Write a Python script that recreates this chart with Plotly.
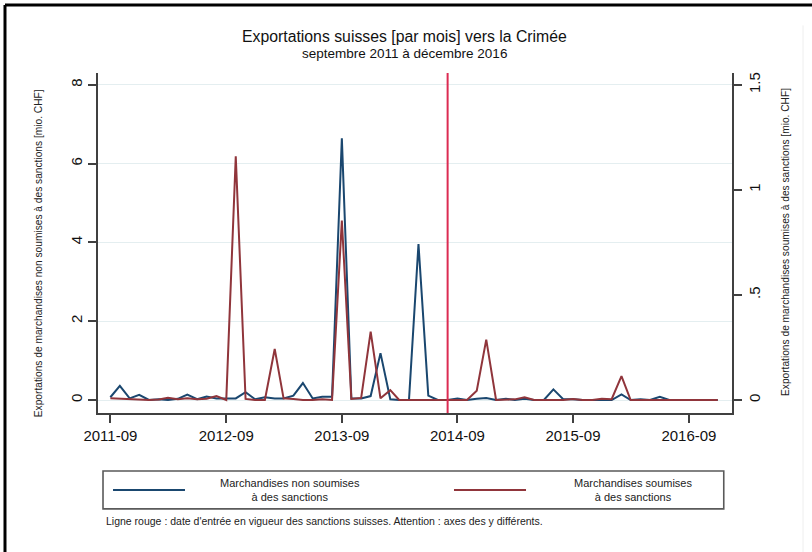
import pandas as pd
import plotly.graph_objects as go

# Monthly Swiss exports to Crimea, September 2011 - December 2016 (mio. CHF)
months = pd.date_range("2011-09-01", "2016-12-01", freq="MS")

non_sanctioned = [
    0.07, 0.36, 0.04, 0.13, 0.00, 0.02, 0.00, 0.03, 0.14, 0.02, 0.09, 0.04,
    0.04, 0.04, 0.20, 0.02, 0.07, 0.04, 0.04, 0.11, 0.43, 0.04, 0.08, 0.08,
    6.64, 0.04, 0.04, 0.10, 1.19, 0.02, 0.00, 0.00, 3.96, 0.11, 0.00, 0.00,
    0.04, 0.00, 0.03, 0.05, 0.00, 0.03, 0.00, 0.03, 0.00, 0.00, 0.27, 0.02,
    0.02, 0.00, 0.00, 0.00, 0.00, 0.14, 0.00, 0.02, 0.00, 0.08, 0.00, 0.00,
    0.00, 0.00, 0.00, 0.00,
]

sanctioned = [
    0.008, 0.006, 0.002, 0.000, 0.000, 0.002, 0.011, 0.003, 0.008, 0.003, 0.006, 0.019,
    0.000, 1.160, 0.005, 0.000, 0.000, 0.243, 0.008, 0.005, 0.000, 0.000, 0.003, 0.000,
    0.854, 0.005, 0.010, 0.325, 0.008, 0.047, 0.000, 0.000, 0.000, 0.000, 0.000, 0.000,
    0.000, 0.000, 0.044, 0.287, 0.000, 0.000, 0.003, 0.013, 0.000, 0.000, 0.000, 0.000,
    0.005, 0.000, 0.000, 0.006, 0.004, 0.114, 0.000, 0.000, 0.000, 0.000, 0.000, 0.000,
    0.000, 0.000, 0.000, 0.000,
]

sanctions_month = "2014-08-01"

left_ticks = [0, 2, 4, 6, 8]
right_ticks = [0, 0.5, 1, 1.5]
right_tick_text = ["0", ".5", "1", "1.5"]

title = "Exportations suisses [par mois] vers la Crimée"
subtitle = "septembre 2011 à décembre 2016"
left_title = "Exportations de marchandises non soumises à des sanctions [mio. CHF]"
right_title = "Exportations de marchandises soumises à des sanctions [mio. CHF]"
legend_labels = ["Marchandises non soumises<br>à des sanctions",
                 "Marchandises soumises<br>à des sanctions"]
note = ("Ligne rouge : date d'entrée en vigueur des sanctions suisses. "
        "Attention : axes des y différents.")

BLUE = "#1a476f"
MAROON = "#90353b"
RED = "#dc2b52"
AXIS = "#404040"
GRID = "#e4eef0"
TEXT = "#222222"
FONT = "Liberation Sans, Arial, Helvetica, sans-serif"

fig = go.Figure()
fig.add_trace(go.Scatter(x=months, y=non_sanctioned, mode="lines",
                         line=dict(color=BLUE, width=2), yaxis="y",
                         name="Marchandises non soumises à des sanctions"))
fig.add_trace(go.Scatter(x=months, y=sanctioned, mode="lines",
                         line=dict(color=MAROON, width=2), yaxis="y2",
                         name="Marchandises soumises à des sanctions"))

# Date the Swiss sanctions came into force
fig.add_shape(type="line", xref="x", yref="paper", x0=sanctions_month,
              x1=sanctions_month, y0=0, y1=1, line=dict(color=RED, width=2))

# Outer frame of the graph region
fig.add_shape(type="line", xref="paper", yref="paper", x0=-0.1467, x1=1.13,
              y0=1.2, y1=1.2, line=dict(color="black", width=3))
fig.add_shape(type="line", xref="paper", yref="paper", x0=-0.1467, x1=-0.1467,
              y0=1.2, y1=-0.42, line=dict(color="black", width=3))
fig.add_shape(type="line", xref="paper", yref="paper", x0=1.112, x1=1.112,
              y0=1.14, y1=-0.42, line=dict(color="#eeeeee", width=1))

# Legend box below the plot
fig.add_shape(type="rect", xref="paper", yref="paper", x0=0.0079, x1=0.987,
              y0=-0.282, y1=-0.1706, line=dict(color="#5a5a5a", width=1.6))
for (x0, x1), color, label, cx in [
    ((0.0237, 0.1372), BLUE, legend_labels[0], 0.303),
    ((0.5615, 0.6751), MAROON, legend_labels[1], 0.8438),
]:
    fig.add_shape(type="line", xref="paper", yref="paper", x0=x0, x1=x1,
                  y0=-0.2265, y1=-0.2265, line=dict(color=color, width=2))
    fig.add_annotation(xref="paper", yref="paper", x=cx, y=-0.2265,
                       text=label, showarrow=False, xanchor="center",
                       yanchor="middle", align="center",
                       font=dict(family=FONT, size=11, color=TEXT))

fig.add_annotation(xref="paper", yref="paper", x=0.0095, y=-0.318, text=note,
                   showarrow=False, xanchor="left", yanchor="middle",
                   font=dict(family=FONT, size=10.5, color=TEXT))

# Titles
fig.add_annotation(xref="paper", yref="paper", x=0.483, y=1.106, text=title,
                   showarrow=False, xanchor="center", yanchor="middle",
                   font=dict(family=FONT, size=15.8, color="#111111"))
fig.add_annotation(xref="paper", yref="paper", x=0.483, y=1.056, text=subtitle,
                   showarrow=False, xanchor="center", yanchor="middle",
                   font=dict(family=FONT, size=13.5, color="#111111"))

# Vertical axis titles
fig.add_annotation(xref="paper", yref="paper", x=-0.0946, y=0.47,
                   text=left_title, textangle=-90, showarrow=False,
                   xanchor="center", yanchor="middle",
                   font=dict(family=FONT, size=10.2, color=TEXT))
fig.add_annotation(xref="paper", yref="paper", x=1.0852, y=0.503,
                   text=right_title, textangle=-90, showarrow=False,
                   xanchor="center", yanchor="middle",
                   font=dict(family=FONT, size=10.2, color=TEXT))

fig.update_layout(
    width=812, height=552, autosize=False,
    margin=dict(l=98, r=80, t=73, b=139),
    paper_bgcolor="white", plot_bgcolor="white",
    showlegend=False,
    font=dict(family=FONT, size=14, color="#111111"),
    xaxis=dict(
        type="date", range=["2011-07-24", "2017-01-15"],
        tick0="2011-09-01", dtick="M12", tickformat="%Y-%m",
        ticks="outside", ticklen=8, tickwidth=1.5, tickcolor=AXIS,
        showline=True, linecolor=AXIS, linewidth=1.5,
        showgrid=False, zeroline=False,
        tickfont=dict(size=15),
    ),
    yaxis=dict(
        range=[-0.33, 8.30], tickvals=left_ticks, tickangle=-90,
        ticks="outside", ticklen=8, tickwidth=1.5, tickcolor=AXIS,
        showline=True, linecolor=AXIS, linewidth=1.5,
        showgrid=True, gridcolor=GRID, gridwidth=1, zeroline=False,
        tickfont=dict(size=15),
    ),
    yaxis2=dict(
        range=[-0.0619, 1.5563], tickvals=right_ticks, ticktext=right_tick_text,
        tickangle=-90, overlaying="y", side="right",
        ticks="outside", ticklen=8, tickwidth=1.5, tickcolor=AXIS,
        showline=True, linecolor=AXIS, linewidth=1.5,
        showgrid=False, zeroline=False,
        tickfont=dict(size=15),
    ),
)

fig.write_html("out.html")
